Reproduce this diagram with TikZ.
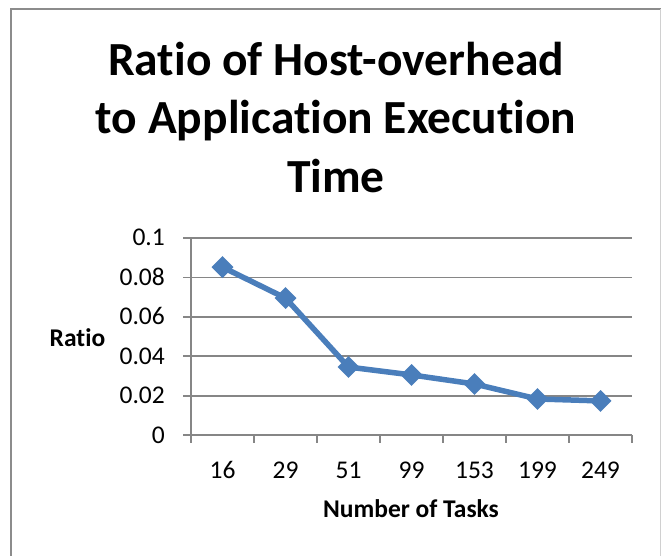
\documentclass[tikz,border=0pt]{standalone}
\usepackage{fontspec}
\setmainfont[Ligatures=NoCommon]{Carlito}
\usetikzlibrary{shapes.geometric}
\definecolor{series}{HTML}{4A7EBB}
\definecolor{gridc}{HTML}{868686}
\definecolor{framec}{HTML}{8C8C8C}
\definecolor{framer}{HTML}{D0D0D0}
\tikzset{
  titletext/.style={anchor=base, inner sep=0pt, font=\fontsize{47.5}{58}\selectfont\bfseries},
  ticklab/.style={inner sep=0pt, font=\fontsize{25.5}{30}\selectfont},
  axtitle/.style={anchor=base, inner sep=0pt, font=\fontsize{25.5}{30}\selectfont\bfseries},
  gridline/.style={draw=gridc, line width=1.8pt},
  marker/.style={diamond, fill=series, inner sep=0pt, minimum width=22pt, minimum height=22pt},
  seriesline/.style={draw=series, line width=5.5pt, line join=round}
}
\begin{document}
\begin{tikzpicture}[x=1pt, y=-1pt]
\useasboundingbox (0,0) rectangle (661,555);
% frame
\draw[framec, line width=2.5pt] (11,560) -- (11,8.8) -- (661,8.8);
\draw[framer, line width=1pt] (660,9) -- (660,560);
% title
\node[titletext] (t1) at (336,75) {Ratio of Host-overhead};
\node[titletext] (t2) at (336,133.5) {to Application Execution};
\node[titletext] (t3) at (336,192) {Time};
% grid
\foreach \v/\lab [count=\i from 0] in {0/0,0.02/0.02,0.04/0.04,0.06/0.06,0.08/0.08,0.1/0.1}{
  \pgfmathsetmacro{\yy}{435-\v*1970}
  \draw[gridline] (183,\yy) -- (632,\yy);
  \node[ticklab, anchor=base east] (yl\i) at (165,\yy+8) {\lab};
}
% axes
\draw[gridline] (191,237) -- (191,443);
\foreach \k in {0,...,7}{
  \draw[gridline] (191+\k*63,435) -- (191+\k*63,443);
}
% x labels
\foreach \lab [count=\i from 0] in {16,29,51,99,153,199,249}{
  \node[ticklab, anchor=base] (xl\i) at (222.5+\i*63,478) {\lab};
}
% axis titles
\node[axtitle] (ytitle) at (77.5,346) {Ratio};
\node[axtitle] (xtitle) at (411,517) {Number of Tasks};
% data
\foreach \v [count=\i from 0] in {0.0852,0.0695,0.0345,0.0305,0.0259,0.0183,0.0173}{
  \pgfmathsetmacro{\yy}{435-\v*1970}
  \coordinate (c\i) at (222.5+\i*63,\yy);
}
\draw[seriesline] (c0) -- (c1) -- (c2) -- (c3) -- (c4) -- (c5) -- (c6);
\foreach \i in {0,...,6}{
  \node[marker] (m\i) at (c\i) {};
}
\end{tikzpicture}
\end{document}
